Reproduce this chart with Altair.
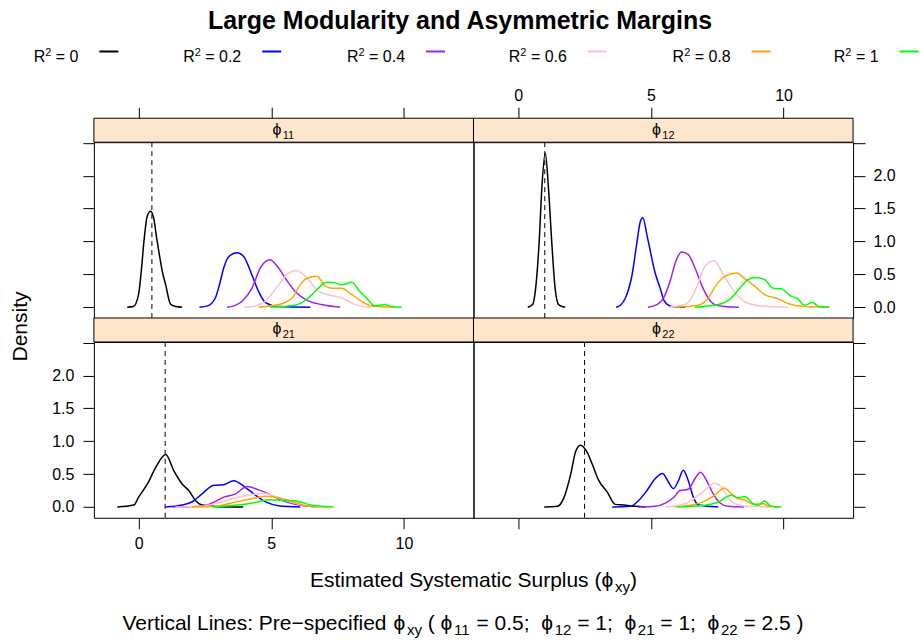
import altair as alt
import pandas as pd

FONT = "Liberation Sans"

# ---- data -----------------------------------------------------------------
R2_LEVELS = ["0", "0.2", "0.4", "0.6", "0.8", "1"]
R2_COLORS = ["#000000", "#0000FF", "#A020F0", "#FFC0CB", "#FFA500", "#00FF00"]
PANELS = ["11", "12", "21", "22"]
PHI_TRUE = [0.5, 1.0, 1.0, 2.5]

# kernel density estimates of phi, one list of (x, density) per panel and R^2
P11_R0 = [(-0.43, 0.0), (-0.2, 0.01), (0.0, 0.2), (0.1, 0.55), (0.2, 1.0), (0.32, 1.38), (0.45, 1.46),
          (0.57, 1.35), (0.68, 1.05), (0.76, 0.85), (0.89, 0.55), (1.02, 0.34), (1.2, 0.05), (1.4, 0.01), (1.64, 0.0)]
P11_R02 = [(2.29, 0.0), (2.6, 0.02), (2.89, 0.14), (3.05, 0.35), (3.21, 0.6), (3.4, 0.77), (3.71, 0.83),
           (3.96, 0.77), (4.27, 0.49), (4.52, 0.24), (4.78, 0.07), (5.28, 0.01), (6.47, 0.0)]
P11_R04 = [(3.33, 0.0), (3.6, 0.02), (3.9, 0.09), (4.27, 0.29), (4.59, 0.6), (4.8, 0.7), (4.96, 0.72),
           (5.1, 0.68), (5.27, 0.6), (5.53, 0.44), (5.9, 0.24), (6.28, 0.12), (6.9, 0.04), (7.59, 0.0)]
P11_R06 = [(3.96, 0.0), (4.4, 0.02), (4.77, 0.09), (5.28, 0.34), (5.65, 0.52), (5.94, 0.56), (6.15, 0.52),
           (6.4, 0.42), (6.78, 0.24), (7.15, 0.19), (7.66, 0.14), (8.16, 0.04), (8.72, 0.0)]
P11_R08 = [(4.52, 0.0), (5.28, 0.04), (5.78, 0.14), (6.09, 0.34), (6.34, 0.44), (6.72, 0.47), (7.03, 0.32),
           (7.28, 0.29), (7.66, 0.29), (8.03, 0.19), (8.41, 0.09), (8.78, 0.02), (9.66, 0.0)]
P11_R1 = [(4.96, 0.0), (5.9, 0.03), (6.4, 0.14), (6.72, 0.27), (7.09, 0.38), (7.4, 0.37), (7.66, 0.34),
          (8.03, 0.38), (8.34, 0.24), (8.59, 0.14), (8.9, 0.02), (9.1, 0.03), (9.28, 0.04), (9.53, 0.01), (9.91, 0.0)]

P12_R0 = [(0.36, 0.0), (0.54, 0.04), (0.67, 0.34), (0.79, 1.0), (0.89, 1.81), (1.02, 2.34), (1.14, 1.81),
          (1.27, 0.95), (1.39, 0.29), (1.52, 0.04), (1.77, 0.0)]
P12_R02 = [(3.69, 0.0), (3.85, 0.03), (4.04, 0.14), (4.29, 0.49), (4.48, 1.0), (4.6, 1.3), (4.7, 1.36),
           (4.85, 1.1), (4.98, 0.85), (5.14, 0.55), (5.35, 0.29), (5.51, 0.09), (5.79, 0.01), (6.29, 0.0)]
P12_R04 = [(4.89, 0.0), (5.23, 0.04), (5.48, 0.14), (5.72, 0.39), (5.94, 0.7), (6.16, 0.84), (6.41, 0.8),
           (6.66, 0.6), (6.91, 0.34), (7.16, 0.14), (7.41, 0.04), (7.79, 0.01), (8.32, 0.0)]
P12_R06 = [(5.66, 0.0), (6.29, 0.04), (6.6, 0.19), (6.85, 0.44), (7.03, 0.62), (7.2, 0.68), (7.38, 0.71),
           (7.66, 0.55), (7.97, 0.34), (8.28, 0.17), (8.65, 0.06), (9.15, 0.02), (10.16, 0.0)]
P12_R08 = [(5.97, 0.0), (6.79, 0.03), (7.16, 0.14), (7.47, 0.34), (7.78, 0.47), (8.22, 0.52), (8.53, 0.44),
           (8.91, 0.32), (9.29, 0.19), (9.78, 0.13), (10.22, 0.05), (10.78, 0.01), (11.72, 0.0)]
P12_R1 = [(6.66, 0.0), (7.54, 0.04), (8.03, 0.14), (8.35, 0.29), (8.66, 0.42), (8.93, 0.45), (9.29, 0.42),
          (9.6, 0.29), (9.91, 0.28), (10.28, 0.17), (10.53, 0.13), (10.78, 0.03), (11.09, 0.07), (11.34, 0.01), (11.72, 0.0)]

P21_R0 = [(-0.8, 0.0), (-0.18, 0.03), (0.0, 0.15), (0.33, 0.35), (0.64, 0.6), (1.02, 0.8), (1.33, 0.55),
          (1.64, 0.35), (1.89, 0.25), (2.14, 0.1), (2.39, 0.03), (3.0, 0.005), (3.94, 0.0)]
P21_R02 = [(1.02, 0.0), (1.64, 0.03), (2.02, 0.08), (2.39, 0.2), (2.83, 0.33), (3.21, 0.34), (3.58, 0.4),
           (4.02, 0.3), (4.4, 0.18), (4.83, 0.07), (5.27, 0.02), (6.09, 0.0)]
P21_R04 = [(1.3, 0.0), (2.39, 0.01), (2.77, 0.06), (3.21, 0.15), (3.65, 0.2), (4.09, 0.31), (4.52, 0.26),
           (4.9, 0.2), (5.4, 0.1), (5.9, 0.04), (6.65, 0.0)]
P21_R06 = [(1.39, 0.0), (2.39, 0.01), (3.15, 0.08), (3.65, 0.14), (4.15, 0.18), (4.71, 0.21), (5.15, 0.16),
           (5.65, 0.085), (6.15, 0.03), (6.9, 0.0)]
P21_R08 = [(2.02, 0.0), (2.9, 0.01), (3.65, 0.075), (4.27, 0.125), (4.77, 0.165), (5.34, 0.135),
           (5.78, 0.085), (6.4, 0.015), (7.15, 0.0)]
P21_R1 = [(2.77, 0.0), (3.65, 0.025), (4.4, 0.07), (4.9, 0.11), (5.53, 0.1), (6.03, 0.085), (6.53, 0.025), (7.34, 0.0)]

P22_R0 = [(0.98, 0.0), (1.48, 0.01), (1.73, 0.15), (1.98, 0.5), (2.17, 0.85), (2.35, 0.94), (2.6, 0.83),
          (2.79, 0.65), (3.04, 0.4), (3.35, 0.23), (3.66, 0.04), (3.98, 0.03), (4.4, 0.01), (4.79, 0.0)]
P22_R02 = [(3.54, 0.0), (4.23, 0.01), (4.54, 0.1), (4.85, 0.25), (5.16, 0.43), (5.44, 0.51), (5.66, 0.38),
           (5.85, 0.28), (6.04, 0.4), (6.22, 0.56), (6.41, 0.4), (6.6, 0.15), (6.79, 0.03), (7.54, 0.0)]
P22_R04 = [(4.54, 0.0), (5.16, 0.01), (5.54, 0.06), (5.85, 0.14), (6.1, 0.25), (6.41, 0.27), (6.66, 0.43),
           (6.87, 0.53), (7.1, 0.4), (7.35, 0.2), (7.6, 0.065), (7.91, 0.01), (8.51, 0.0)]
P22_R06 = [(5.54, 0.0), (6.29, 0.05), (6.79, 0.18), (7.16, 0.3), (7.38, 0.36), (7.66, 0.3), (7.91, 0.15),
           (8.16, 0.05), (8.66, 0.01), (9.53, 0.0)]
P22_R08 = [(5.91, 0.0), (6.54, 0.03), (7.03, 0.09), (7.41, 0.18), (7.76, 0.29), (8.03, 0.2), (8.28, 0.125),
           (8.53, 0.11), (8.85, 0.04), (9.22, 0.05), (9.47, 0.01), (9.91, 0.0)]
P22_R1 = [(6.04, 0.0), (7.03, 0.025), (7.54, 0.075), (8.03, 0.18), (8.28, 0.14), (8.53, 0.16), (8.85, 0.05),
          (9.04, 0.025), (9.29, 0.09), (9.53, 0.01), (9.91, 0.0)]

CURVES = {
    "11": [P11_R0, P11_R02, P11_R04, P11_R06, P11_R08, P11_R1],
    "12": [P12_R0, P12_R02, P12_R04, P12_R06, P12_R08, P12_R1],
    "21": [P21_R0, P21_R02, P21_R04, P21_R06, P21_R08, P21_R1],
    "22": [P22_R0, P22_R02, P22_R04, P22_R06, P22_R08, P22_R1],
}

rows = []
for panel in PANELS:
    for lvl, pts in zip(R2_LEVELS, CURVES[panel]):
        for i, (x, y) in enumerate(pts):
            rows.append({"panel": panel, "r2": lvl, "i": i, "x": x, "y": y})
dens = pd.DataFrame(rows)

# ---- layout ---------------------------------------------------------------
W, H, S = 380, 176, 24            # panel width, panel height, strip height
X_DOMAIN = [-1.686, 12.62]
Y_DOMAIN = [-0.164, 2.509]
ORIGINS = {"11": (93.5, 141.5), "12": (473.5, 141.5), "21": (93.5, 341.5), "22": (473.5, 341.5)}
ONE = pd.DataFrame({"k": [0]})

# advance widths (1/1000 em) of the sans-serif face used for composed labels
ADV = {" ": 278, "(": 333, ")": 333, ".": 278, ":": 278, ";": 278, "=": 584, "\u2212": 584,
       "A": 667, "D": 722, "E": 667, "L": 556, "P": 667, "R": 722, "S": 667, "V": 667,
       "a": 556, "c": 500, "d": 556, "e": 556, "f": 278, "i": 222, "l": 222, "m": 833, "n": 556,
       "p": 556, "r": 333, "s": 500, "t": 278, "u": 556, "x": 500, "y": 500, "\u03d5": 640}


def width(s, size):
    return sum(ADV.get(ch, 556) for ch in s) * size / 1000.0


def compose(pieces, x0, y0, anchor="left"):
    """Lay out (text, size, dy) pieces on one baseline; returns (text, x, y, size)."""
    total = sum(width(t, fs) for t, fs, _ in pieces)
    x = {"left": x0, "center": x0 - total / 2, "right": x0 - total}[anchor]
    out = []
    for t, fs, dy in pieces:
        lead = len(t) - len(t.lstrip(" "))
        if t.strip():
            out.append((t.strip(), x + width(" " * lead, fs), y0 + dy, fs))
        x += width(t, fs)
    return out


def text_layers(items, origin, angle=0, weight="normal", align="left"):
    ox, oy = origin
    layers = []
    for t, x, y, fs in items:
        layers.append(
            alt.Chart(ONE).mark_text(text=t, fontSize=fs, font=FONT, align=align, baseline="alphabetic",
                                     color="black", angle=angle, fontWeight=weight)
            .encode(x=alt.value(x - ox), y=alt.value(y - oy))
        )
    return layers


def axis(orient, labels, values, size, pad, offset=0, expr=None):
    kw = dict(orient=orient, values=values, grid=False, domain=False, ticks=True, tickSize=size,
              tickColor="black", tickWidth=1, labels=labels, labelPadding=pad, labelFont=FONT,
              labelFontSize=16, labelColor="black", title=None, offset=offset,
              labelFlush=False, labelOverlap=False)
    if expr:
        kw["labelExpr"] = expr
    return alt.Axis(**kw)


Y_TICKS = [0, 0.5, 1, 1.5, 2, 2.5]
Y_EXPR = "datum.value > 2.25 ? '' : format(datum.value, '.1f')"
X_TICKS = [0, 5, 10]


def panel(key, left, right, top, bottom, extra=()):
    d = dens[dens.panel == key]
    xs = alt.Scale(domain=X_DOMAIN, nice=False, zero=False)
    ys = alt.Scale(domain=Y_DOMAIN, nice=False, zero=False)
    ax_bottom = axis("bottom", bottom == 2, X_TICKS, 11, 7) if bottom else None
    ax_left = axis("left", left == 2, Y_TICKS, 11, 9, expr=Y_EXPR) if left else None
    ax_top = axis("top", top == 2, X_TICKS, 11, 4, offset=S) if top else None
    ax_right = axis("right", right == 2, Y_TICKS, 12, 8, expr=Y_EXPR) if right else None

    strip = alt.Chart(ONE).mark_rect(fill="#FFE5CC", stroke="black", strokeWidth=1).encode(
        x=alt.value(0), x2=alt.value(W), y=alt.value(-S), y2=alt.value(0))
    ox, oy = ORIGINS[key]
    strip_text = text_layers(compose([("\u03d5", 16, 0), (key, 11, 4)], ox + W / 2, oy - 7.5, "center"),
                             (ox, oy))

    lines = alt.Chart(d).mark_line(strokeWidth=1.5, interpolate="monotone").encode(
        x=alt.X("x:Q", scale=xs, axis=ax_bottom),
        y=alt.Y("y:Q", scale=ys, axis=ax_left),
        color=alt.Color("r2:N", scale=alt.Scale(domain=R2_LEVELS, range=R2_COLORS), legend=None),
        order="i:Q",
    )
    frame = alt.Chart(d).mark_point(opacity=0).encode(
        x=alt.X("x:Q", scale=xs, axis=ax_top),
        y=alt.Y("y:Q", scale=ys, axis=ax_right),
    )
    truth = pd.DataFrame({"phi": [PHI_TRUE[PANELS.index(key)]]})
    vline = alt.Chart(truth).mark_rule(color="black", strokeWidth=1, strokeDash=[5, 4]).encode(
        x=alt.X("phi:Q", scale=xs, axis=None))

    return alt.layer(strip, *strip_text, lines, frame, vline, *extra).resolve_axis(
        x="independent", y="independent").properties(width=W, height=H)


# ---- page annotations (absolute page coordinates) -------------------------
o11 = ORIGINS["11"]
notes = []
notes += text_layers([("Large Modularity and Asymmetric Margins", 460, 28, 25)], o11,
                     weight="bold", align="center")

LEGEND_LINE_X = [99, 262, 426, 588, 752, 900]
for lvl, col, lx in zip(R2_LEVELS, R2_COLORS, LEGEND_LINE_X):
    notes += text_layers(compose([("R", 16, 0), ("2", 11, -6), (" = " + lvl, 16, 0)], lx - 21, 61, "right"), o11)
    notes.append(alt.Chart(ONE).mark_rule(color=col, strokeWidth=2).encode(
        x=alt.value(lx - o11[0]), x2=alt.value(lx + 19 - o11[0]), y=alt.value(50.7 - o11[1])))

notes += text_layers([("Density", 26.5, 326, 21)], o11, angle=270, align="center")
notes += text_layers(compose([("Estimated Systematic Surplus (", 21, 0), ("\u03d5", 21, 0), ("xy", 15, 5),
                              (")", 21, 0)], 473.5, 587, "center"), o11)
cap = [("Vertical Lines: Pre\u2212specified ", 21, 0), ("\u03d5", 21, 0), ("xy", 15, 5), (" ( ", 21, 0)]
for j, (key, val) in enumerate(zip(PANELS, PHI_TRUE)):
    lab = f"{val:g}"
    sep = ";  " if j < len(PANELS) - 1 else " )"
    cap += [("\u03d5", 21, 0), (key, 15, 5), (" = " + lab + sep, 21, 0)]
notes += text_layers(compose(cap, 463, 630, "center"), o11)

# fixes the page frame to 920 x 643
corner_tl = alt.Chart(ONE).mark_rect(opacity=0).encode(
    x=alt.value(-o11[0]), x2=alt.value(-o11[0] + 1), y=alt.value(-o11[1]), y2=alt.value(-o11[1] + 1))
o22 = ORIGINS["22"]
corner_br = alt.Chart(ONE).mark_rect(opacity=0).encode(
    x=alt.value(920 - o22[0] - 1), x2=alt.value(920 - o22[0]), y=alt.value(643 - o22[1] - 1),
    y2=alt.value(643 - o22[1]))

p11 = panel("11", left=1, right=0, top=1, bottom=0, extra=[corner_tl, *notes])
p12 = panel("12", left=0, right=2, top=2, bottom=0)
p21 = panel("21", left=2, right=0, top=0, bottom=2)
p22 = panel("22", left=0, right=1, top=0, bottom=1, extra=[corner_br])

chart = alt.concat(p11, p12, p21, p22, columns=2, spacing={"row": S, "column": 0}, bounds="flush").properties(
    padding=0, background="white"
).configure_view(stroke="black", strokeWidth=1)

chart.save("out.html", embed_options={"renderer": "svg", "actions": False})
